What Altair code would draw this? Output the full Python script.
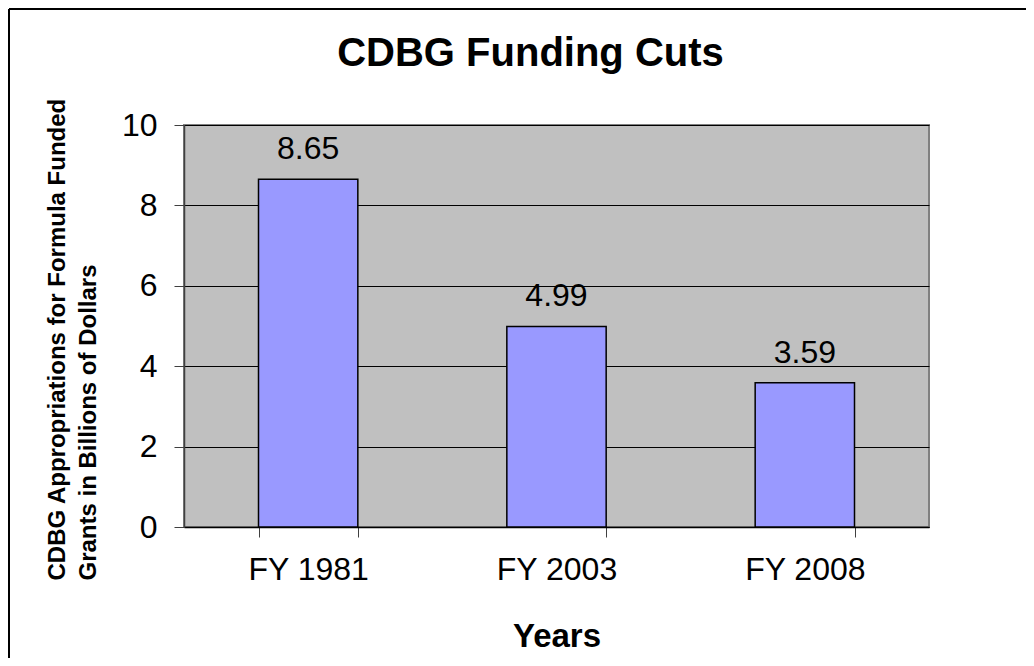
import altair as alt
import pandas as pd

years = ["FY 1981", "FY 2003", "FY 2008"]
values = [8.65, 4.99, 3.59]

df = pd.DataFrame({"year": years, "value": values})

FONT = "Liberation Sans"
W, H = 745, 402

x_enc = alt.X(
    "year:N",
    sort=years,
    scale=alt.Scale(paddingInner=0.6, paddingOuter=0.3),
    axis=alt.Axis(
        title="Years",
        titleFont=FONT,
        titleFontSize=33,
        titleFontWeight="bold",
        titleColor="black",
        titleBaseline="alphabetic",
        titleY=119,
        titleX=W / 2,
        labelFont=FONT,
        labelFontSize=32,
        labelColor="black",
        labelAngle=0,
        labelPadding=17,
        tickSize=10,
        tickBand="extent",
        tickColor="#404040",
        domainColor="#000000",
        domainWidth=1.5,
        grid=False,
    ),
)

y_enc = alt.Y(
    "value:Q",
    scale=alt.Scale(domain=[0, 10], nice=False),
    axis=alt.Axis(
        title=["CDBG Appropriations for Formula Funded", "Grants in Billions of Dollars"],
        titleFont=FONT,
        titleFontSize=24,
        titleFontWeight="bold",
        titleColor="black",
        titleAngle=-90,
        titleAlign="left",
        titleBaseline="alphabetic",
        titleLineHeight=31,
        titleX=-120,
        titleY=455,
        values=[0, 2, 4, 6, 8, 10],
        labelFont=FONT,
        labelFontSize=32,
        labelColor="black",
        labelPadding=17,
        tickSize=10,
        tickColor="#404040",
        domainColor="#404040",
        domainWidth=1.5,
        grid=True,
        gridColor="#000000",
        gridWidth=1,
    ),
)

base = alt.Chart(df)

bars = base.mark_bar(color="#9999FF", stroke="black", strokeWidth=1.5).encode(x=x_enc, y=y_enc)

labels = base.mark_text(
    font=FONT, fontSize=32, color="black", baseline="alphabetic", dy=-20
).encode(x=alt.X("year:N", sort=years), y="value:Q", text=alt.Text("value:Q", format=".2f"))

border_top = alt.Chart(pd.DataFrame({"a": [0]})).mark_rule(color="black", strokeWidth=2).encode(
    x=alt.value(-175), x2=alt.value(W + 97), y=alt.value(-116)
)
border_left = alt.Chart(pd.DataFrame({"a": [0]})).mark_rule(color="black", strokeWidth=2).encode(
    x=alt.value(-175), y=alt.value(-116), y2=alt.value(H + 131)
)

chart = (
    alt.layer(bars, labels, border_top, border_left)
    .properties(
        width=W,
        height=H,
        background="white",
        autosize=alt.AutoSizeParams(type="none"),
        padding={"left": 176, "top": 117, "right": 97, "bottom": 131},
        title=alt.TitleParams(
            "CDBG Funding Cuts",
            font=FONT,
            fontSize=40,
            fontWeight="bold",
            color="black",
            anchor="middle",
            baseline="alphabetic",
            offset=0,
            dy=98,
            dx=-26,
        ),
    )
    .configure_view(fill="#C0C0C0", stroke="#808080", strokeWidth=2)
)

chart.save("out.html", embed_options={"renderer": "svg", "actions": False})
